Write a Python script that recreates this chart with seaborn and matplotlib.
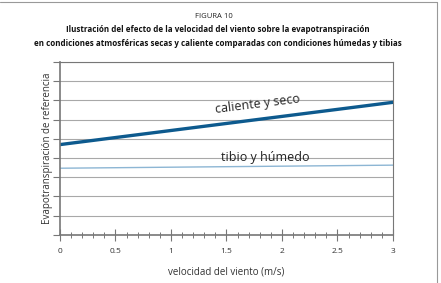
import matplotlib
matplotlib.use('Agg')
import matplotlib.pyplot as plt
import seaborn as sns
import pandas as pd
from matplotlib.lines import Line2D
from matplotlib.ticker import MultipleLocator

# datos
velocidad = [0, 3]
caliente_seco = [4.7, 6.9]
tibio_humedo = [3.47, 3.63]

sns.set_style('white')
plt.rcParams['font.family'] = ['Open Sans', 'DejaVu Sans']

fig = plt.figure(figsize=(4.41, 2.83), dpi=100)
ax = fig.add_axes([0.136, 0.170, 0.755, 0.611])

df1 = pd.DataFrame({'v': velocidad, 'et': caliente_seco})
df2 = pd.DataFrame({'v': velocidad, 'et': tibio_humedo})
sns.lineplot(data=df1, x='v', y='et', color='#0d5a8e', linewidth=2.4, ax=ax)
sns.lineplot(data=df2, x='v', y='et', color='#8db6d4', linewidth=1.0, ax=ax)

ax.set_xlim(0, 3)
ax.set_ylim(0, 9)
ax.yaxis.set_major_locator(MultipleLocator(1))
ax.xaxis.set_minor_locator(MultipleLocator(0.1))
ax.set_yticklabels([])
ax.set_xticks([0, 0.5, 1, 1.5, 2, 2.5, 3])
ax.set_xticklabels(['0', '0.5', '1', '1.5', '2', '2.5', '3'])
ax.grid(axis='y', color='#a8a8a8', linewidth=0.8)
ax.set_axisbelow(True)

for side in ['top', 'right']:
    ax.spines[side].set_color('#777777')
    ax.spines[side].set_linewidth(0.8)
for side in ['left', 'bottom']:
    ax.spines[side].set_color('#777777')
    ax.spines[side].set_linewidth(1.2)

ax.tick_params(axis='y', which='major', left=True, direction='out', length=5,
               width=0.8, color='#777777')
ax.tick_params(axis='x', which='major', bottom=True, direction='inout', length=9,
               width=0.8, color='#777777', labelsize=6, labelcolor='#333333', pad=5)
ax.tick_params(axis='x', which='minor', bottom=True, direction='inout', length=5,
               width=0.7, color='#777777')

ax.set_xlabel('velocidad del viento (m/s)', fontsize=7, color='#333333')
ax.set_ylabel('Evapotranspiración de referencia', fontsize=7, color='#333333')
ax.xaxis.set_label_coords(0.5, -0.185)
ax.yaxis.set_label_coords(-0.02, 0.5)

ax.text(1.78, 6.82, 'caliente y seco', fontsize=9, color='#222222',
        rotation=7.2, ha='center', va='center')
ax.text(1.85, 4.02, 'tibio y húmedo', fontsize=9, color='#222222',
        ha='center', va='center')

fig.text(0.485, 0.942, 'FIGURA 10', fontsize=5.5, ha='center', va='center', color='#222222')
fig.text(0.494, 0.894, 'Ilustración del efecto de la velocidad del viento sobre la evapotranspiración',
         fontsize=5.75, fontweight='bold', ha='center', va='center', color='#111111')
fig.text(0.494, 0.847, 'en condiciones atmosféricas secas y caliente comparadas con condiciones húmedas y tibias',
         fontsize=5.75, fontweight='bold', ha='center', va='center', color='#111111')

# marco exterior
fig.add_artist(Line2D([0, 0.99], [0.993, 0.993], color='#999999', linewidth=0.8))
fig.add_artist(Line2D([0.99, 0.99], [0, 0.993], color='#999999', linewidth=0.8))

fig.savefig('out.png', dpi=100)
